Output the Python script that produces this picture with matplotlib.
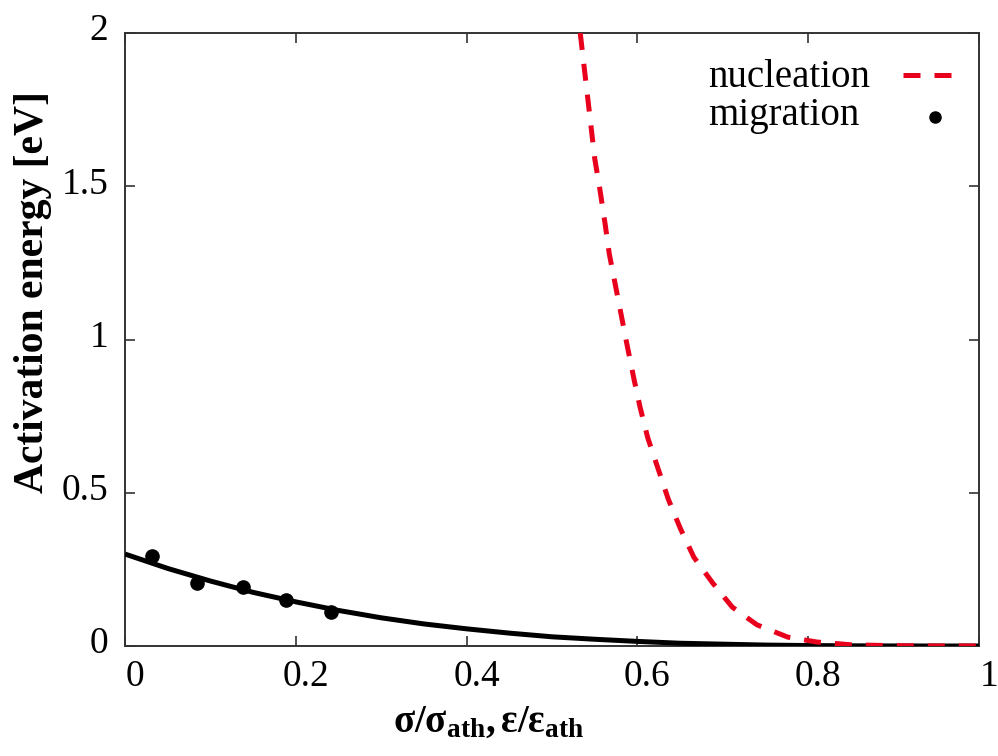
import matplotlib
matplotlib.use("Agg")
import matplotlib.pyplot as plt
from matplotlib.transforms import ScaledTranslation

plt.rcParams["font.family"] = ["Liberation Serif", "DejaVu Serif"]
plt.rcParams["mathtext.fontset"] = "custom"
plt.rcParams["mathtext.rm"] = "Liberation Serif"
plt.rcParams["mathtext.it"] = "Liberation Serif:italic"
plt.rcParams["mathtext.bf"] = "Liberation Serif:bold"

# Migration barrier: computed points and fitted curve
mig_x = [0.032, 0.084, 0.138, 0.189, 0.241]
mig_y = [0.294, 0.207, 0.193, 0.150, 0.112]

fit_x = [0.0, 0.05, 0.10, 0.15, 0.20, 0.25, 0.30, 0.35, 0.40, 0.45, 0.50,
         0.55, 0.60, 0.65, 0.70, 0.75, 0.80, 0.85, 0.90, 0.95, 1.0]
fit_y = [0.300, 0.253, 0.212, 0.175, 0.144, 0.116, 0.092, 0.072, 0.056,
         0.042, 0.030, 0.022, 0.015, 0.009, 0.006, 0.003, 0.0015, 0.0006,
         0.0002, 0.0, 0.0]

# Nucleation barrier
nuc_x = [0.533, 0.550, 0.556, 0.562, 0.567, 0.574, 0.581, 0.588, 0.596,
         0.603, 0.612, 0.624, 0.636, 0.650, 0.666, 0.688, 0.711, 0.740,
         0.776, 0.810, 0.850, 0.900, 0.950, 1.0]
nuc_y = [2.0, 1.59, 1.49, 1.38, 1.28, 1.18, 1.08, 0.98, 0.87, 0.78, 0.68,
         0.58, 0.48, 0.385, 0.29, 0.206, 0.127, 0.069, 0.029, 0.013, 0.004,
         0.001, 0.0, 0.0]

x_ticks = [0, 0.2, 0.4, 0.6, 0.8, 1]
x_ticklabels = ["0", "0.2", "0.4", "0.6", "0.8", "1"]
y_ticks = [0, 0.5, 1, 1.5, 2]
y_ticklabels = ["0", "0.5", "1", "1.5", "2"]

RED = "#e8001c"
LW = 3.6
DASH = (3.4, 2.8)

fig = plt.figure(figsize=(9.98, 7.56), dpi=100)
ax = fig.add_axes([0.1253, 0.1455, 0.8557, 0.8108])

ax.plot(fit_x, fit_y, color="black", lw=LW, solid_capstyle="butt", zorder=3)
ax.plot(nuc_x, nuc_y, color=RED, lw=LW, dashes=DASH, zorder=4)
ax.plot(mig_x, mig_y, "o", color="black", ms=9.5, zorder=5)

ax.set_xlim(0, 1)
ax.set_ylim(0, 2)
ax.set_xticks(x_ticks)
ax.set_xticklabels(x_ticklabels)
ax.set_yticks(y_ticks)
ax.set_yticklabels(y_ticklabels)
ax.tick_params(direction="in", length=7, width=1.2, top=True, right=True,
               labelsize=27, colors="#333333", labelcolor="black")
ax.tick_params(axis="x", pad=10)
ax.tick_params(axis="y", pad=12)
for sp in ax.spines.values():
    sp.set_linewidth(1.4)
    sp.set_color("#333333")

for lab in ax.get_xticklabels():
    lab.set_transform(lab.get_transform() + ScaledTranslation(0.10, 0, fig.dpi_scale_trans))
for lab in ax.get_yticklabels():
    lab.set_transform(lab.get_transform() + ScaledTranslation(0, 0.06, fig.dpi_scale_trans))

ax.set_xlabel(r"$\mathbf{σ/σ_{ath},ε/ε_{ath}}$", fontsize=28)
ax.xaxis.set_label_coords(0.426, -0.094)
ax.set_ylabel("Activation energy [eV]", fontsize=30, fontweight="bold")
ax.yaxis.set_label_coords(-0.086, 0.578)

# Key: labels on the left, samples on the right
ax.text(0.6827, 0.912, "nucleation", transform=ax.transAxes, fontsize=28,
        ha="left", va="baseline")
ax.text(0.6827, 0.850, "migration", transform=ax.transAxes, fontsize=28,
        ha="left", va="baseline")
ax.plot([0.911, 0.9754], [0.9315, 0.9315], transform=ax.transAxes,
        color=RED, lw=LW, dashes=DASH, clip_on=False)
ax.plot([0.9485], [0.863], "o", transform=ax.transAxes, color="black",
        ms=8, clip_on=False)

fig.savefig("out.png", dpi=100)
